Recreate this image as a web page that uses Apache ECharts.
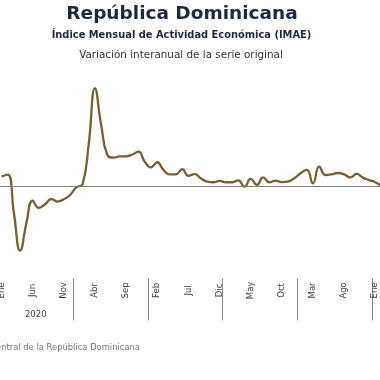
<!DOCTYPE html>
<html>
<head>
<meta charset="utf-8">
<script src="https://cdn.jsdelivr.net/npm/echarts@6/dist/echarts.min.js"></script>
<style>
html,body{margin:0;padding:0;background:#fff;overflow:hidden;width:380px;height:380px;}
#chart{position:absolute;left:-3px;top:0;width:388px;height:380px;}
</style>
</head>
<body>
<div id="chart"></div>
<script>
// ---- data ----
const monthNames = ['Ene','Feb','Mar','Abr','May','Jun','Jul','Ago','Sep','Oct','Nov','Dic'];
const years = [2020, 2021, 2022, 2023, 2024, 2025];
const values2020 = [4.3, 5.2, -12.5, -29.4, -16.9, -6.7, -9.9, -8.3, -5.9, -7.1, -6.0, -4.1];
const values2021 = [-0.6, 0.8, 19.0, 44.4, 27.7, 14.1, 12.9, 13.5, 13.5, 14.3, 15.6, 11.0];
const values2022 = [8.5, 10.8, 7.3, 5.3, 5.3, 7.7, 4.6, 5.4, 3.5, 2.0, 1.7, 2.3];
const values2023 = [1.7, 1.7, 2.6, -0.3, 3.2, 0.5, 3.9, 1.7, 2.4, 1.8, 2.0, 3.5];
const values2024 = [5.8, 7.3, 1.2, 8.8, 5.0, 5.3, 5.9, 5.3, 3.9, 5.5, 3.8, 2.7];
const values2025 = [1.7, 0.0];
const yearLabels = ['2020'];
const titleText = 'República Dominicana';
const subtitleText = 'Índice Mensual de Actividad Económica (IMAE)';
const subtitle2Text = 'Variación interanual de la serie original';
const sourceText = 'Fuente: Banco Central de la República Dominicana';

// ---- build ----
const allValues = [].concat(values2020, values2021, values2022, values2023, values2024, values2025);
const categories = [];
const monthOf = [];
for (let i = 0; i < allValues.length; i++) {
  const y = years[Math.floor(i / 12)];
  const m = i % 12;
  categories.push(y + '-' + (m + 1));
  monthOf.push(m);
}

const OX = 3; // container offset (container is shifted 3px left)
const chart = echarts.init(document.getElementById('chart'), null, {renderer: 'canvas'});
const FONT = '"DejaVu Sans", sans-serif';
chart.setOption({
  animation: false,
  backgroundColor: '#ffffff',
  grid: {left: 0.125, width: 387.5, top: 76, height: 202.4, containLabel: false},
  xAxis: {
    type: 'category',
    data: categories,
    boundaryGap: true,
    axisLine: {show: false, onZero: false},
    axisTick: {
      show: true,
      length: 42,
      interval: function (idx) { return monthOf[idx] === 0; },
      lineStyle: {color: '#8c8c8c', width: 1}
    },
    axisLabel: {
      interval: function (idx) { return idx % 5 === 0; },
      rotate: 90,
      align: 'center',
      verticalAlign: 'middle',
      padding: [5, 0, 0, 0],
      margin: 12,
      fontSize: 8.5,
      fontFamily: FONT,
      color: '#444',
      formatter: function (v, idx) { return monthNames[monthOf[idx]]; }
    },
    splitLine: {show: false}
  },
  yAxis: {
    type: 'value',
    min: -42,
    max: 50,
    show: false,
    splitLine: {show: false}
  },
  series: [{
    type: 'line',
    data: allValues,
    smooth: true,
    symbol: 'none',
    lineStyle: {color: '#7a5f33', width: 2.3},
    markLine: {
      silent: true,
      symbol: 'none',
      label: {show: false},
      lineStyle: {color: '#808080', width: 1, type: 'solid'},
      data: [{yAxis: 0}]
    },
    z: 3
  }]
});

const p5 = chart.convertToPixel({xAxisIndex: 0}, categories[5]);
const p6 = chart.convertToPixel({xAxisIndex: 0}, categories[6]);
chart.setOption({
  graphic: [
    {type: 'text', x: 182 + OX, y: 14, style: {text: titleText, font: 'bold 18.5px ' + FONT, fill: '#1c2a3e', textAlign: 'center', textVerticalAlign: 'middle'}},
    {type: 'text', x: 181.5 + OX, y: 35, style: {text: subtitleText, font: 'bold 9.9px ' + FONT, fill: '#1c2a3e', textAlign: 'center', textVerticalAlign: 'middle'}},
    {type: 'text', x: 181 + OX, y: 55, style: {text: subtitle2Text, font: '10.4px ' + FONT, fill: '#333', textAlign: 'center', textVerticalAlign: 'middle'}},
    {type: 'text', x: (p5 + p6) / 2, y: 315, style: {text: yearLabels[0], font: '8.5px ' + FONT, fill: '#444', textAlign: 'center', textVerticalAlign: 'middle'}},
    {type: 'text', x: 140 + OX, y: 348, style: {text: sourceText, font: '8.4px ' + FONT, fill: '#777', textAlign: 'right', textVerticalAlign: 'middle'}}
  ]
});
</script>
</body>
</html>
